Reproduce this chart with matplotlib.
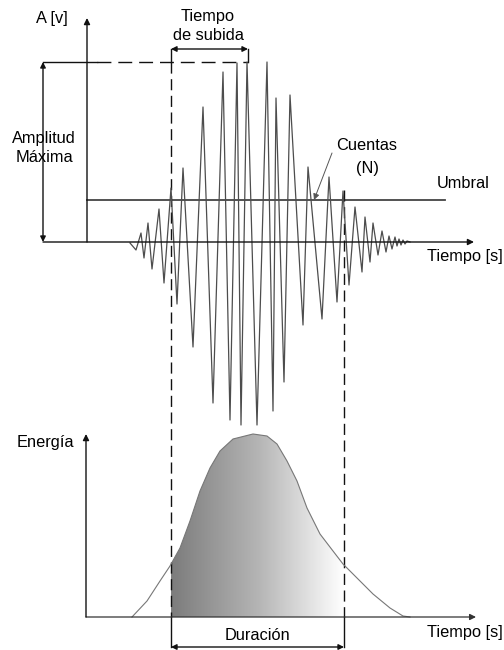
import numpy as np
import matplotlib.pyplot as plt
from matplotlib.colors import LinearSegmentedColormap
from matplotlib.patches import Polygon

plt.rcParams['font.family'] = ['Liberation Sans', 'DejaVu Sans']

# burst waveform vertices: time and amplitude measured from the origin of the A[v] axis
wave_t = [43, 49, 54, 57, 61, 65, 72, 77, 84, 90, 96, 106, 116, 126, 136, 143, 150, 154,
          160, 170, 180, 186, 189, 197, 203, 216, 221, 235, 242, 250, 256, 262, 268, 275,
          278, 283, 286, 291, 295, 299, 302, 305, 308, 310, 312, 314, 316, 318, 320, 323]
wave_a = [-1, -8, 9, -16, 19, -27, 33, -41, 54, -62, 74, -105, 135, -161, 170, -178, 179,
          -183, 180, -183, 180, -169, 144, -140, 147, -83, 75, -77, 65, -60, 51, -43, 35,
          -30, 25, -20, 19, -13, 11, -10, 6, -7, 5, -4, 3, -3, 2, -2, 1, 0]

# energy envelope: time from the same origin, energy above its own baseline
energy_t = [46, 61, 74, 84, 94, 104, 114, 124, 134, 147, 167, 181, 191, 201, 211, 221,
            234, 247, 257, 271, 287, 304, 317, 324]
energy_e = [0, 16, 36, 51, 69, 96, 126, 149, 166, 178, 183, 181, 173, 156, 136, 109,
            83, 66, 53, 39, 23, 9, 1, 0]

# reference levels on the amplitude axis
peak_amp = 180
threshold = 42

# time markers: first threshold crossing, peak, last threshold crossing
t_start = 84
t_peak = 161
t_end = 257

X0, Y0 = 87, 242      # origin of the upper (amplitude) axes
X1, Y1 = 86, 617      # origin of the lower (energy) axes

fig = plt.figure(figsize=(5.04, 6.5), dpi=100)
ax = fig.add_axes([0, 0, 1, 1])

fs = 11.8
black = '#111111'
dash = (0, (8, 4))


def arrow(x0, y0, x1, y1, style='-|>', lw=1.0, color=black, ms=9):
    ax.annotate('', xy=(x1, y1), xytext=(x0, y0),
                arrowprops=dict(arrowstyle=style, color=color, lw=lw,
                                mutation_scale=ms, shrinkA=0, shrinkB=0))


# --- upper diagram: waveform ---
xs = X0 + np.array(wave_t)
ys = Y0 - np.array(wave_a)
ax.plot(xs, ys, color='#4d4d4d', lw=0.9, zorder=3)

# axes
arrow(43, Y0, 474, Y0)
arrow(X0, Y0, X0, 18)

# threshold
ax.plot([X0, 445], [Y0 - threshold] * 2, color='#444444', lw=1.3)

# peak amplitude level and its double arrow
y_pk = Y0 - peak_amp
ax.plot([43, 97], [y_pk, y_pk], color=black, lw=1)
ax.plot([97, X0 + t_peak], [y_pk, y_pk], color=black, lw=1, linestyle=(0, (10, 5)))
arrow(43, y_pk, 43, Y0, style='<|-|>', ms=8)

# rise time bracket and duration lines
x_s = X0 + t_start
x_p = X0 + t_peak
x_e = X0 + t_end
y_br = 49
ax.plot([x_s, x_s], [y_br, y_pk], color=black, lw=1)
ax.plot([x_p, x_p], [y_br, y_pk], color=black, lw=1)
arrow(x_s, y_br, x_p, y_br, style='<|-|>', ms=8)

ax.plot([x_s, x_s], [y_pk, Y1], color=black, lw=1, linestyle=dash)
ax.plot([x_e, x_e], [190, Y1], color=black, lw=1, linestyle=dash)
ax.plot([x_s, x_s], [Y1, 647], color=black, lw=1)
ax.plot([x_e, x_e], [Y1, 647], color=black, lw=1)
arrow(x_s, 647, x_e, 647, style='<|-|>', ms=8)

# counts annotation
ax.annotate('', xy=(314, Y0 - threshold), xytext=(332, 153),
            arrowprops=dict(arrowstyle='-|>', color='#555555', lw=0.7,
                            mutation_scale=9, shrinkA=0, shrinkB=0))

# --- lower diagram: energy ---
ex = X1 + np.array(energy_t)
ey = Y1 - np.array(energy_e)

inside = (ex > x_s) & (ex < x_e)
ey_s = np.interp(x_s, ex, ey)
ey_e = np.interp(x_e, ex, ey)
poly_x = np.concatenate([[x_s, x_s], ex[inside], [x_e, x_e]])
poly_y = np.concatenate([[Y1, ey_s], ey[inside], [ey_e, Y1]])
clip = Polygon(np.column_stack([poly_x, poly_y]), closed=True,
               facecolor='none', edgecolor='none')
ax.add_patch(clip)
cmap = LinearSegmentedColormap.from_list('shade', ['#7c7c7c', '#b4b4b4', '#ffffff'])
grad = np.linspace(0, 1, 256).reshape(1, -1)
img = ax.imshow(grad, cmap=cmap, extent=[x_s, x_e, Y1, 420], aspect='auto',
                interpolation='bilinear', zorder=1)
img.set_clip_path(clip)

ax.plot(ex, ey, color='#777777', lw=0.8, zorder=2)

arrow(X1, Y1, 476, Y1, color='#333333', lw=0.9)
arrow(X1, Y1, X1, 434)

# --- labels ---
ax.text(52, 18, 'A [v]', fontsize=fs, ha='center', va='center')
ax.text(208, 17, 'Tiempo', fontsize=fs, ha='center', va='center')
ax.text(208, 36, 'de subida', fontsize=fs, ha='center', va='center')
ax.text(44, 138, 'Amplitud', fontsize=fs, ha='center', va='center')
ax.text(44, 157, 'Máxima', fontsize=fs, ha='center', va='center')
ax.text(367, 146, 'Cuentas', fontsize=fs, ha='center', va='center')
ax.text(367, 168, '(N)', fontsize=fs, ha='center', va='center')
ax.text(463, 183, 'Umbral', fontsize=fs, ha='center', va='center')
ax.text(465, 257, 'Tiempo [s]', fontsize=fs, ha='center', va='center')
ax.text(45, 443, 'Energía', fontsize=fs, ha='center', va='center')
ax.text(465, 632, 'Tiempo [s]', fontsize=fs, ha='center', va='center')
ax.text(257, 636, 'Duración', fontsize=fs, ha='center', va='center')

ax.set_xlim(0, 504)
ax.set_ylim(650, 0)
ax.axis('off')

fig.savefig('out.png', dpi=100, facecolor='white')
